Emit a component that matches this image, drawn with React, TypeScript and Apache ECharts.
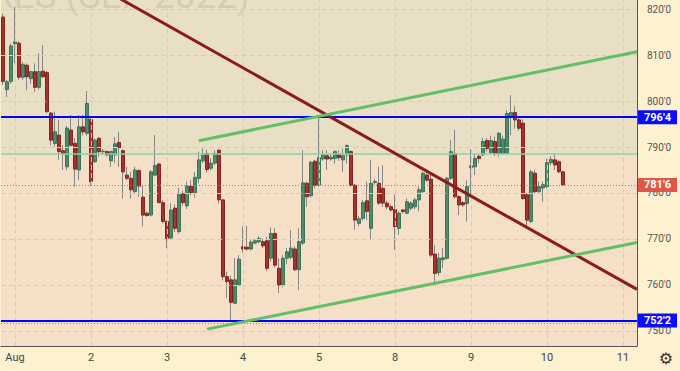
import React, { useEffect, useRef } from "react";
import * as echarts from "echarts";

// ---- data ----
const SLOT_COUNT = 159; // bar slots across the plot (incl. empty future slots)
const dayLabels: [number, string][] = [
  [3, "Aug"], [22, "2"], [41, "3"], [60, "4"], [79, "5"],
  [98, "8"], [117, "9"], [136, "10"], [155, "11"],
];
const opens = [
  818.3, 802.5, 804.3, 812.5, 812.6, 805.2, 807.8, 804.9, 806.4, 803.0,
  806.5, 806.2, 797.4, 790.8, 792.6, 789.2, 785.7, 793.7, 790.8, 785.0,
  794.4, 793.0, 796.0, 786.8, 791.9, 789.0, 789.0, 787.0, 788.3, 791.0,
  789.2, 783.9, 783.2, 780.3, 784.9, 779.1, 775.6, 775.2, 783.9, 786.3,
  777.9, 773.8, 770.2, 776.7, 771.6, 779.8, 777.2, 781.5, 779.9, 783.2,
  787.0, 788.6, 785.4, 786.5, 789.3, 778.5, 761.8, 761.1, 756.0, 760.0,
  768.3, 768.2, 767.8, 769.1, 769.4, 769.4, 769.6, 765.8, 771.2, 763.6,
  760.0, 765.8, 766.0, 767.8, 763.3, 769.1, 782.1, 779.4, 786.9, 781.7,
  787.4, 788.1, 787.4, 787.5, 788.4, 787.2, 788.3, 789.0, 781.7, 773.4,
  774.5, 778.3, 772.3, 782.3, 782.1, 781.0, 777.8, 777.0, 776.4, 772.3,
  776.3, 775.6, 776.7, 777.0, 778.5, 780.3, 783.9, 783.0, 766.7, 762.7,
  765.5, 765.8, 783.2, 788.6, 779.2, 777.9, 777.7, 785.5, 785.7, 788.0,
  788.3, 791.4, 788.8, 791.2, 788.6, 788.6, 788.6, 796.5, 797.5, 795.9,
  795.2, 779.6, 773.8, 784.3, 780.3, 781.1, 781.4, 786.6, 787.2, 786.8,
  784.6,
];
const closes = [
  804.3, 804.2, 812.0, 812.9, 805.2, 808.0, 805.3, 806.4, 803.0, 806.4,
  805.3, 797.7, 791.5, 793.3, 789.0, 788.5, 794.1, 790.4, 785.2, 794.4,
  793.3, 799.5, 782.5, 791.5, 789.0, 789.1, 788.3, 789.0, 790.7, 789.9,
  784.6, 783.2, 780.7, 785.0, 781.5, 775.2, 775.1, 784.6, 786.0, 777.9,
  773.8, 770.1, 776.3, 772.3, 779.9, 777.9, 781.5, 780.1, 783.4, 787.2,
  788.3, 785.1, 786.5, 788.6, 778.5, 761.8, 760.7, 756.2, 761.1, 765.6,
  767.8, 767.8, 769.3, 769.6, 770.1, 768.5, 763.6, 771.2, 764.3, 760.0,
  765.8, 767.2, 768.0, 763.3, 769.4, 782.2, 779.2, 786.7, 781.7, 787.7,
  788.3, 787.4, 787.8, 789.0, 787.7, 788.1, 790.3, 781.7, 774.1, 774.4,
  777.9, 776.0, 782.1, 782.5, 777.8, 777.8, 777.0, 776.3, 772.7, 775.6,
  776.0, 778.1, 777.8, 778.5, 780.7, 784.3, 782.8, 766.5, 762.5, 765.8,
  765.9, 783.2, 789.0, 779.2, 777.4, 777.4, 781.4, 785.9, 787.5, 787.5,
  791.2, 789.7, 791.4, 788.6, 793.0, 791.7, 797.3, 797.5, 795.9, 794.1,
  778.8, 774.1, 784.6, 780.3, 781.4, 781.8, 786.6, 787.3, 786.1, 784.6,
  781.75,
];
const highs = [
  819.0, 804.6, 812.5, 820.5, 813.0, 808.5, 808.2, 806.6, 808.2, 810.4,
  812.2, 806.5, 797.6, 797.7, 796.0, 790.4, 794.6, 797.0, 792.0, 797.0,
  797.0, 802.2, 796.5, 791.9, 792.2, 789.5, 789.3, 789.2, 792.2, 793.3,
  789.5, 785.7, 784.6, 785.7, 785.1, 781.7, 776.0, 785.0, 792.6, 786.5,
  778.5, 774.2, 777.8, 777.5, 781.1, 780.5, 782.5, 782.8, 784.6, 789.0,
  789.7, 789.4, 787.5, 789.3, 789.6, 778.6, 762.9, 762.0, 765.8, 766.5,
  772.7, 772.8, 770.0, 770.0, 770.6, 770.1, 770.5, 772.5, 772.3, 765.8,
  766.5, 768.0, 771.9, 768.5, 772.3, 789.3, 782.5, 787.0, 787.2, 796.8,
  789.3, 789.3, 788.5, 789.3, 789.3, 789.7, 790.6, 789.3, 782.0, 775.0,
  778.5, 782.5, 787.2, 783.0, 785.7, 786.0, 778.3, 777.5, 779.6, 776.0,
  776.5, 778.8, 778.2, 779.0, 781.4, 784.6, 784.9, 784.0, 768.7, 766.9,
  768.0, 783.5, 791.5, 793.7, 779.5, 778.2, 782.8, 789.5, 788.6, 788.3,
  792.0, 792.0, 792.5, 792.3, 793.3, 792.5, 798.0, 801.3, 798.9, 796.5,
  796.0, 780.0, 785.0, 785.0, 782.5, 782.5, 787.5, 788.0, 788.6, 787.2,
  784.8,
];
const lows = [
  803.5, 800.9, 803.7, 808.3, 804.6, 804.6, 802.4, 803.8, 802.0, 802.5,
  805.0, 797.3, 790.4, 790.1, 787.2, 785.0, 785.0, 790.1, 781.4, 782.8,
  792.5, 792.5, 781.5, 786.5, 787.9, 788.3, 788.0, 785.7, 786.5, 785.7,
  778.8, 782.8, 778.8, 779.9, 779.2, 772.7, 774.8, 774.9, 783.6, 777.8,
  773.4, 768.0, 769.8, 771.5, 771.2, 777.2, 776.5, 779.5, 779.0, 782.1,
  786.5, 784.5, 784.9, 786.0, 777.7, 761.0, 757.1, 752.0, 755.8, 760.0,
  767.0, 767.5, 767.5, 768.8, 769.0, 768.0, 763.0, 765.0, 763.8, 758.2,
  759.5, 764.5, 765.5, 763.0, 758.9, 768.7, 777.0, 779.0, 781.0, 781.4,
  787.0, 785.0, 787.0, 786.4, 787.0, 784.6, 786.4, 781.4, 772.0, 772.8,
  774.0, 774.1, 769.8, 781.8, 777.4, 777.0, 776.5, 776.0, 767.6, 770.9,
  775.5, 775.4, 776.2, 776.5, 776.0, 780.0, 782.5, 766.0, 760.7, 762.0,
  763.6, 765.5, 782.8, 778.8, 775.2, 777.0, 773.8, 779.6, 783.9, 786.5,
  788.0, 789.0, 788.5, 788.0, 787.9, 788.3, 788.3, 792.6, 794.0, 793.5,
  778.5, 772.7, 773.5, 779.9, 779.8, 778.1, 781.0, 786.0, 785.0, 784.3,
  781.5,
];
const yTicks = [750, 760, 770, 780, 790, 800, 810, 820];
const yRange = [746.7, 822.0];
const resistance = 796.5;
const support = 752.25;
const lastPrice = 781.75;
const zoneLevel = 788.6;
const lowDotted = 751.7;
const maroonTrend: [number, number][] = [[20, 826.83], [158.5, 759.02]];
const greenUpper: [number, number][] = [[48.96, 791.37], [158.5, 810.74]];
const greenLower: [number, number][] = [[51.02, 750.37], [158.5, 769.22]];
const watermark = "WHEAT FUTURES (SEP 2022)";

const fmtPrice = (v: number) => `${Math.floor(v)}'${Math.round((v - Math.floor(v)) * 8)}`;

export default function App() {
  const ref = useRef<HTMLDivElement>(null);
  useEffect(() => {
    if (!ref.current) return;
    const chart = echarts.init(ref.current, undefined, { renderer: "svg" });
    const labelMap: Record<number, string> = {};
    dayLabels.forEach(([i, s]) => (labelMap[i] = s));
    const cats = Array.from({ length: SLOT_COUNT }, (_, i) => "b" + i);
    const full = opens.map((o, i) => [o, closes[i], lows[i], highs[i]]);
    const bodies = opens.map((o, i) => [o, closes[i], Math.min(o, closes[i]), Math.max(o, closes[i])]);
    const font = "Roboto, 'Liberation Sans', sans-serif";
    const tag = (v: number, bg: string, lineColor: string, type: any, width: number) => ({
      yAxis: v,
      lineStyle: { color: lineColor, type, width },
      label: {
        show: true, position: "end", distance: 1, formatter: fmtPrice(v),
        backgroundColor: bg, color: "#fff", fontSize: 11, fontWeight: "bold",
        fontFamily: font, padding: [1, 6, 1, 6], lineHeight: 12,
      },
    });
    chart.setOption({
      animation: false,
      grid: {
        left: -2.07, right: 43, top: 0, bottom: 25,
        show: true, backgroundColor: "#f5dfc6", borderWidth: 0,
      },
      xAxis: [
        {
          type: "category", data: cats, boundaryGap: true,
          axisLine: { show: true, onZero: false, lineStyle: { color: "#555", width: 1 } },
          axisTick: { show: false },
          splitLine: { show: false },
          axisLabel: {
            interval: 0, margin: 6, color: "#444", fontSize: 11, fontFamily: font,
            formatter: (_v: string, i: number) => labelMap[i] || "",
          },
        },
        { type: "value", min: -0.5, max: SLOT_COUNT - 0.5, show: false, axisLine: { onZero: false } },
      ],
      yAxis: {
        type: "value", position: "right", min: yRange[0], max: yRange[1],
        axisLine: { show: true, onZero: false, lineStyle: { color: "#555", width: 1 } },
        axisTick: { show: false },
        splitLine: { show: false },
        axisLabel: {
          customValues: yTicks, margin: 10, color: "#555", fontSize: 10, fontFamily: font,
          formatter: (v: number) => `${v}'0`,
        },
      },
      graphic: [
        {
          type: "text", z: 2, silent: true,
          style: {
            x: 250, y: 14, text: watermark, textAlign: "right", textVerticalAlign: "bottom",
            fontSize: 37, fontFamily: font, fill: "rgba(120,105,80,0.16)",
          },
        },
        {
          type: "text", z: 10,
          style: { x: 666, y: 358, text: "⚙", textAlign: "center", textVerticalAlign: "middle",
            fontSize: 16, fill: "#333", fontFamily: "DejaVu Sans" },
        },
      ],
      series: [
        {
          type: "line", xAxisIndex: 1, data: [], z: 1, silent: true,
          markArea: {
            silent: true,
            itemStyle: { color: "#e8dfc4" },
            data: [[{ yAxis: zoneLevel }, { yAxis: yRange[1] }]],
          },
          markLine: {
            silent: true, symbol: ["none", "none"], label: { show: false },
            lineStyle: { color: "#d4cccb", type: [5, 3], width: 1 },
            data: [
              ...yTicks.map((v) => ({ yAxis: v })),
              ...dayLabels.map(([i]) => ({ xAxis: i })),
            ],
          },
        },
        {
          type: "candlestick", xAxisIndex: 0, data: full, barWidth: 1, z: 3, silent: true,
          itemStyle: { color: "#858585", color0: "#858585", borderColor: "#858585", borderColor0: "#858585", borderWidth: 1 },
        },
        {
          type: "candlestick", xAxisIndex: 0, data: bodies, barWidth: 3, z: 4, silent: true,
          itemStyle: { color: "#4f8c6c", color0: "#a3332f", borderColor: "#3c7357", borderColor0: "#86231f", borderWidth: 1 },
        },
        {
          type: "line", xAxisIndex: 1, data: [], z: 5, silent: true,
          markLine: {
            silent: true, symbol: ["none", "none"],
            data: [
              { yAxis: zoneLevel, lineStyle: { color: "#86d3aa", type: "solid", width: 1.5 }, label: { show: false } },
              { yAxis: lowDotted, lineStyle: { color: "#8a8a8a", type: [1, 2], width: 1 }, label: { show: false } },
              tag(lastPrice, "#df5846", "#e2604e", [1, 2], 1),
              tag(resistance, "#0b0bff", "#0000ff", "solid", 2),
              tag(support, "#0b0bff", "#0000ff", "solid", 2),
            ],
          },
        },
        {
          type: "line", xAxisIndex: 1, data: maroonTrend, z: 6, symbol: "none", silent: true,
          lineStyle: { color: "#8c1b1b", width: 3 },
        },
        {
          type: "line", xAxisIndex: 1, data: greenUpper, z: 6, symbol: "none", silent: true,
          lineStyle: { color: "#62bf68", width: 3 },
        },
        {
          type: "line", xAxisIndex: 1, data: greenLower, z: 6, symbol: "none", silent: true,
          lineStyle: { color: "#62bf68", width: 3 },
        },
      ],
    });
    return () => chart.dispose();
  }, []);
  return (
    <div
      ref={ref}
      style={{ position: "fixed", left: 0, top: 0, width: 680, height: 371, background: "#fdf2d0" }}
    />
  );
}
